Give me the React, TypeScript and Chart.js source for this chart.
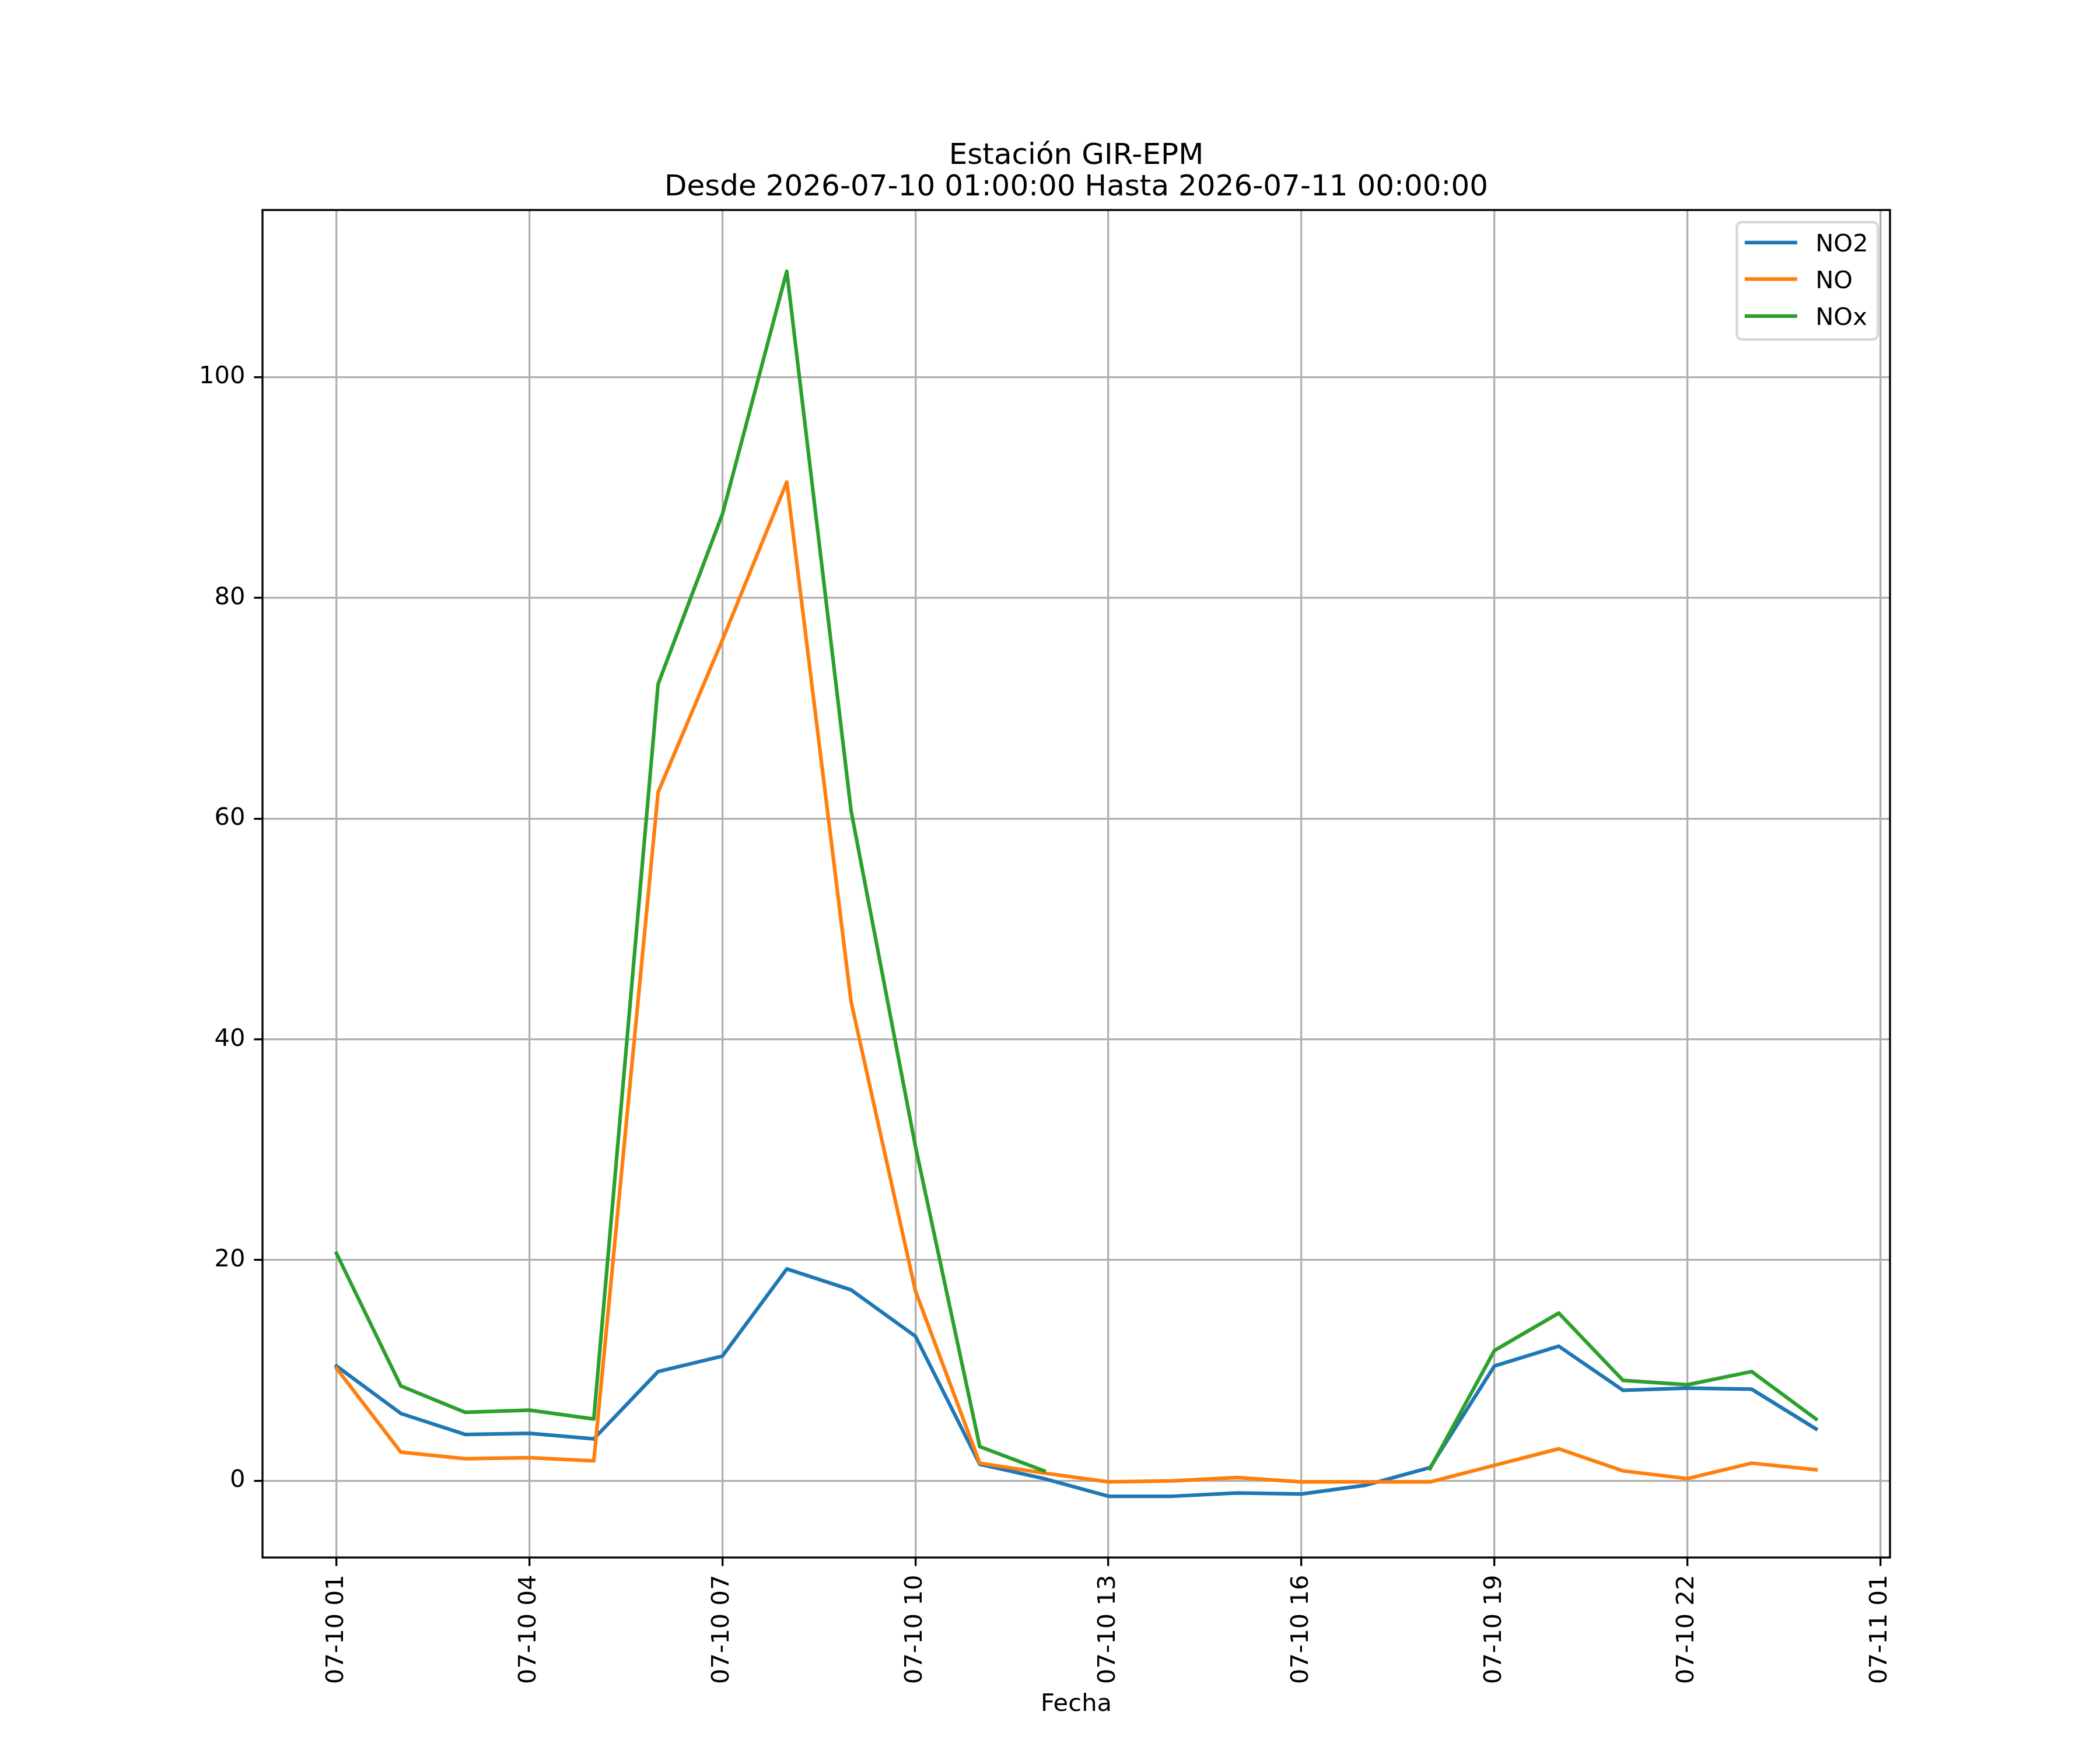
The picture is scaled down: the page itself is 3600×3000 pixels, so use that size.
import { useEffect, useRef } from "react"
import { Chart, registerables } from "chart.js"

Chart.register(...registerables)

// hours since 2026-07-10 00:00
const hours = [1, 2, 3, 4, 5, 6, 7, 8, 9, 10, 11, 12, 13, 14, 15, 16, 17, 18, 19, 20, 21, 22, 23, 24]
const no2Values = [10.4, 6.1, 4.2, 4.3, 3.8, 9.9, 11.3, 19.2, 17.3, 13.1, 1.5, 0.2, -1.4, -1.4, -1.1, -1.2, -0.4, 1.2, 10.4, 12.2, 8.2, 8.4, 8.3, 4.7]
const noValues = [10.2, 2.6, 2.0, 2.1, 1.8, 62.4, 76.2, 90.5, 43.4, 17.2, 1.6, 0.7, -0.1, 0.0, 0.3, -0.1, -0.1, -0.1, 1.4, 2.9, 0.9, 0.2, 1.6, 1.0]
const noxValues = [20.6, 8.6, 6.2, 6.4, 5.6, 72.2, 87.6, 109.6, 60.7, 30.3, 3.1, 0.9, null, null, null, null, null, 1.1, 11.8, 15.2, 9.1, 8.7, 9.9, 5.6]
const seriesNames = ["NO2", "NO", "NOx"]
const seriesColors = ["#1f77b4", "#ff7f0e", "#2ca02c"]
const xTickHours = [1, 4, 7, 10, 13, 16, 19, 22, 25]
const yTickValues = [0, 20, 40, 60, 80, 100]
const titleLines = ["Estación GIR-EPM", "Desde 2026-07-10 01:00:00 Hasta 2026-07-11 00:00:00"]

const FONT = "DejaVu Sans"
const FS = 41.67 // 10pt at 300 dpi
const LW = 3.33 // 0.8pt

const pad2 = (n: number) => String(n).padStart(2, "0")
const hourLabel = (h: number) => {
  const day = 10 + Math.floor(h / 24)
  return `07-${pad2(day)} ${pad2(h % 24)}`
}

// matplotlib-like 5% margins
const span = hours[hours.length - 1] - hours[0]
const xMin = hours[0] - span * 0.05
const xMax = hours[hours.length - 1] + span * 0.05
const allY = [...no2Values, ...noValues, ...noxValues].filter((v) => v !== null) as number[]
const yLo = Math.min(...allY)
const yHi = Math.max(...allY)
const yMin = yLo - (yHi - yLo) * 0.05
const yMax = yHi + (yHi - yLo) * 0.05

const decorPlugin = {
  id: "decor",
  afterDatasetsDraw(chart: Chart) {
    const { ctx, chartArea } = chart
    const { left, right, top, bottom } = chartArea
    ctx.save()
    ctx.strokeStyle = "#000"
    ctx.lineWidth = LW
    ctx.strokeRect(left, top, right - left, bottom - top)
    ctx.restore()
  },
  afterDraw(chart: Chart) {
    const { ctx, chartArea } = chart
    const { left, right, top } = chartArea
    ctx.save()
    // title
    ctx.fillStyle = "#000"
    ctx.font = `50px "${FONT}"`
    ctx.textAlign = "center"
    ctx.textBaseline = "alphabetic"
    const cx = (left + right) / 2
    ctx.fillText(titleLines[0], cx, top - 79)
    ctx.fillText(titleLines[1], cx, top - 25)

    // legend
    const w = 241.7
    const h = 201
    const x0 = right - 20.8 - w
    const y0 = top + 20.8
    const r = 8.3
    ctx.beginPath()
    ctx.moveTo(x0 + r, y0)
    ctx.lineTo(x0 + w - r, y0)
    ctx.arcTo(x0 + w, y0, x0 + w, y0 + r, r)
    ctx.lineTo(x0 + w, y0 + h - r)
    ctx.arcTo(x0 + w, y0 + h, x0 + w - r, y0 + h, r)
    ctx.lineTo(x0 + r, y0 + h)
    ctx.arcTo(x0, y0 + h, x0, y0 + h - r, r)
    ctx.lineTo(x0, y0 + r)
    ctx.arcTo(x0, y0, x0 + r, y0, r)
    ctx.closePath()
    ctx.fillStyle = "rgba(255,255,255,0.8)"
    ctx.fill()
    ctx.strokeStyle = "rgba(204,204,204,0.8)"
    ctx.lineWidth = 4.17
    ctx.stroke()

    const rows = [35, 97.6, 161]
    ctx.font = `${FS}px "${FONT}"`
    ctx.textAlign = "left"
    seriesNames.forEach((name, i) => {
      const y = y0 + rows[i]
      ctx.beginPath()
      ctx.moveTo(x0 + 13.4, y)
      ctx.lineTo(x0 + 103.4, y)
      ctx.strokeStyle = seriesColors[i]
      ctx.lineWidth = 6.25
      ctx.lineCap = "butt"
      ctx.stroke()
      ctx.fillStyle = "#000"
      ctx.fillText(name, x0 + 134.7, y + 15.3)
    })
    ctx.restore()
  },
}

export default function App() {
  const chartRef = useRef<HTMLCanvasElement>(null)
  const chartInstance = useRef<Chart | null>(null)

  useEffect(() => {
    document.body.style.margin = "0"
    if (!chartRef.current) return
    if (chartInstance.current) chartInstance.current.destroy()
    const ctx = chartRef.current.getContext("2d")
    if (!ctx) return

    const series = [no2Values, noValues, noxValues]

    chartInstance.current = new Chart(ctx, {
      type: "line",
      data: {
        datasets: series.map((vals, i) => ({
          label: seriesNames[i],
          data: hours.map((h, j) => ({ x: h, y: vals[j] })),
          borderColor: seriesColors[i],
          backgroundColor: seriesColors[i],
          borderWidth: 6.25,
          borderJoinStyle: "round" as const,
          borderCapStyle: "square" as const,
          pointRadius: 0,
          tension: 0,
          spanGaps: false,
          fill: false,
          order: 3 - i, // NOx drawn on top, like matplotlib
        })),
      },
      options: {
        responsive: false,
        animation: false,
        devicePixelRatio: 1,
        events: [],
        layout: { padding: { top: 360, right: 360, bottom: 0, left: 0 } },
        plugins: {
          legend: { display: false },
          title: { display: false },
          tooltip: { enabled: false },
        },
        scales: {
          x: {
            type: "linear",
            min: xMin,
            max: xMax,
            afterBuildTicks: (scale: any) => {
              scale.ticks = xTickHours.map((v) => ({ value: v }))
            },
            afterFit: (scale: any) => {
              scale.height = 330
            },
            ticks: {
              autoSkip: false,
              minRotation: 90,
              maxRotation: 90,
              padding: 15,
              color: "#000",
              font: { family: FONT, size: FS },
              callback: (v: any) => hourLabel(Number(v)),
            },
            grid: { color: "#b0b0b0", lineWidth: LW, tickLength: 14.6, tickColor: "#000", tickWidth: LW },
            border: { display: false },
            title: {
              display: true,
              text: "Fecha",
              color: "#000",
              font: { family: FONT, size: FS, lineHeight: 1.2 },
              padding: { top: 0, bottom: 53 },
            },
          },
          y: {
            type: "linear",
            min: yMin,
            max: yMax,
            afterBuildTicks: (scale: any) => {
              scale.ticks = yTickValues.map((v) => ({ value: v }))
            },
            afterFit: (scale: any) => {
              scale.width = 450
            },
            ticks: {
              padding: 15,
              color: "#000",
              font: { family: FONT, size: FS },
              callback: (v: any) => String(v),
            },
            grid: { color: "#b0b0b0", lineWidth: LW, tickLength: 14.6, tickColor: "#000", tickWidth: LW },
            border: { display: false },
          },
        },
      },
      plugins: [decorPlugin],
    })

    return () => {
      if (chartInstance.current) {
        chartInstance.current.destroy()
        chartInstance.current = null
      }
    }
  }, [])

  return <canvas ref={chartRef} width={3600} height={3000} style={{ display: "block", width: 3600, height: 3000 }} />
}
